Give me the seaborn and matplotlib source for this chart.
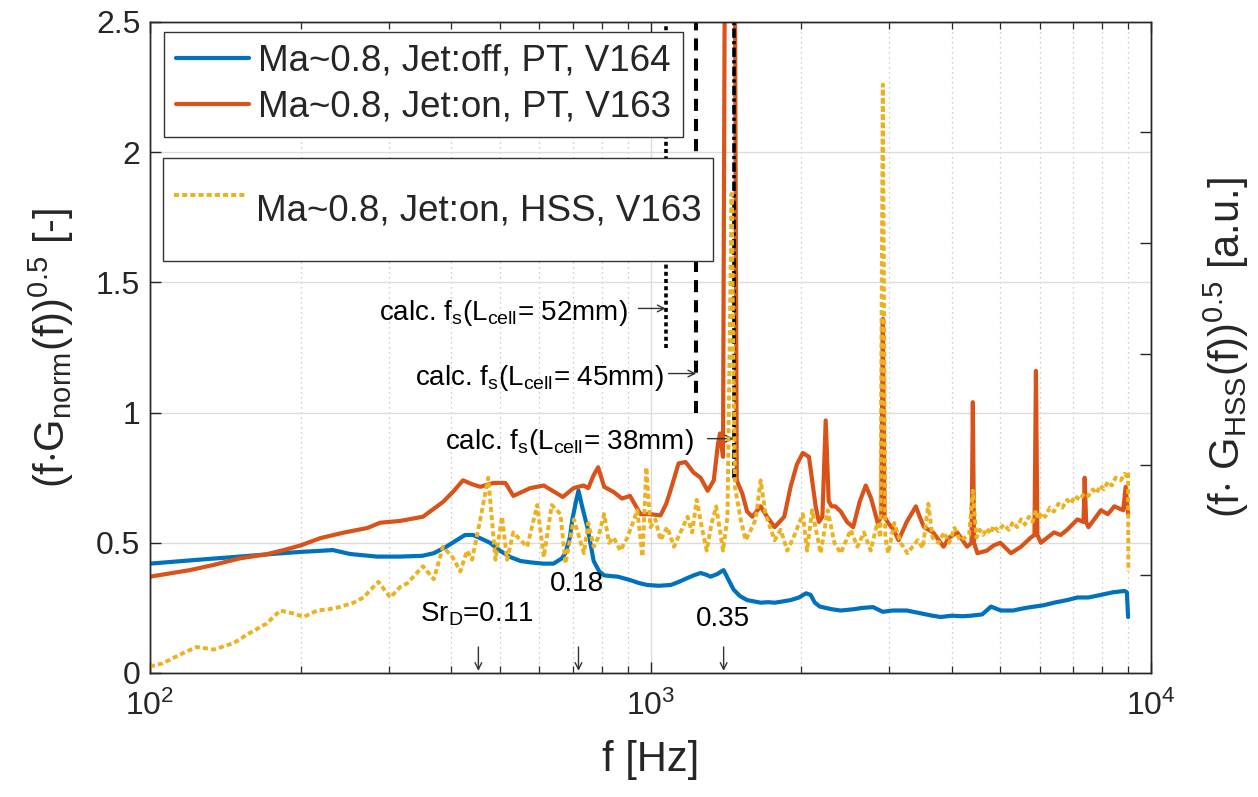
import numpy as np
import pandas as pd
import matplotlib
matplotlib.use("Agg")
import matplotlib.pyplot as plt
import seaborn as sns

# ---------------- data ----------------
freq_off = [100, 125, 151, 175, 200, 232, 251, 284, 316, 350,
            369, 390, 410, 426, 442, 460, 478, 500, 525, 550,
            575, 610, 640, 665, 676, 690, 698, 710, 718, 730,
            748, 770, 790, 808, 835, 860, 910, 950, 985, 1040,
            1097, 1140, 1186, 1220, 1259, 1290, 1318, 1360, 1385, 1400,
            1430, 1466, 1510, 1560, 1610, 1660, 1720, 1770, 1840, 1905,
            1980, 2045, 2089, 2130, 2180, 2300, 2400, 2550, 2650, 2785,
            2910, 3050, 3250, 3450, 3660, 3800, 4000, 4200, 4365, 4600,
            4790, 5010, 5300, 5550, 5750, 6100, 6400, 6800, 7130, 7500,
            7940, 8400, 8850, 8950, 9000]
val_off = [0.420, 0.435, 0.447, 0.457, 0.465, 0.472, 0.457, 0.447, 0.447, 0.450,
           0.460, 0.484, 0.510, 0.530, 0.530, 0.515, 0.500, 0.470, 0.445, 0.430,
           0.425, 0.420, 0.420, 0.440, 0.460, 0.520, 0.590, 0.660, 0.700, 0.640,
           0.560, 0.430, 0.390, 0.375, 0.372, 0.370, 0.357, 0.345, 0.338, 0.335,
           0.338, 0.350, 0.365, 0.375, 0.384, 0.378, 0.370, 0.380, 0.390, 0.395,
           0.360, 0.320, 0.295, 0.280, 0.275, 0.270, 0.272, 0.270, 0.275, 0.280,
           0.290, 0.306, 0.300, 0.270, 0.255, 0.245, 0.240, 0.245, 0.250, 0.253,
           0.235, 0.240, 0.240, 0.230, 0.220, 0.215, 0.220, 0.218, 0.220, 0.225,
           0.255, 0.240, 0.240, 0.248, 0.253, 0.260, 0.270, 0.280, 0.290, 0.290,
           0.300, 0.310, 0.315, 0.310, 0.215]

freq_on = [100, 120, 134, 151, 170, 185, 200, 219, 245, 272,
           288, 316, 351, 385, 405, 422, 440, 457, 485, 513,
           532, 575, 612, 668, 702, 718, 735, 751, 770, 786,
           808, 844, 877, 910, 955, 1000, 1047, 1075, 1096, 1138,
           1175, 1219, 1259, 1301, 1338, 1364, 1377, 1396, 1440, 1487,
           1525, 1560, 1597, 1660, 1710, 1770, 1850, 1905, 1960, 2015,
           2073, 2138, 2170, 2205, 2239, 2270, 2300, 2340, 2400, 2470,
           2540, 2620, 2692, 2760, 2845, 2890, 2912, 2935, 2985, 3060,
           3130, 3250, 3390, 3450, 3520, 3670, 3850, 3950, 4100, 4290,
           4380, 4406, 4430, 4500, 4700, 4850, 5000, 5250, 5500, 5750,
           5850, 5890, 5930, 6025, 6400, 6600, 6800, 7130, 7330, 7370,
           7420, 7500, 7940, 8200, 8450, 8800, 8900, 9000]
val_on = [0.370, 0.395, 0.415, 0.440, 0.455, 0.472, 0.490, 0.518, 0.540, 0.557,
          0.577, 0.584, 0.600, 0.657, 0.700, 0.740, 0.725, 0.715, 0.730, 0.730,
          0.680, 0.710, 0.720, 0.676, 0.710, 0.715, 0.720, 0.710, 0.760, 0.790,
          0.715, 0.695, 0.670, 0.680, 0.610, 0.610, 0.605, 0.650, 0.700, 0.805,
          0.810, 0.770, 0.750, 0.700, 0.740, 0.880, 0.920, 0.830, 8.000, 0.740,
          0.690, 0.620, 0.600, 0.640, 0.600, 0.560, 0.600, 0.715, 0.800, 0.845,
          0.830, 0.640, 0.580, 0.600, 0.970, 0.660, 0.640, 0.640, 0.620, 0.580,
          0.560, 0.660, 0.720, 0.670, 0.576, 0.600, 1.360, 0.600, 0.576, 0.550,
          0.510, 0.580, 0.640, 0.600, 0.560, 0.540, 0.485, 0.520, 0.540, 0.485,
          0.500, 1.040, 0.500, 0.460, 0.470, 0.490, 0.500, 0.460, 0.485, 0.520,
          0.530, 1.160, 0.530, 0.500, 0.540, 0.530, 0.550, 0.590, 0.580, 0.750,
          0.580, 0.560, 0.625, 0.610, 0.640, 0.625, 0.715, 0.610]

freq_hss = [100, 106, 116, 124, 134, 147, 158, 171, 182, 192,
            203, 216, 228, 240, 255, 267, 276, 286, 302, 316,
            327, 351, 369, 385, 402, 417, 430, 440, 457, 474,
            490, 505, 517, 532, 550, 567, 594, 612, 635, 661,
            676, 703, 736, 751, 770, 786, 808, 826, 844, 871,
            899, 941, 964, 981, 1000, 1023, 1047, 1080, 1114, 1148,
            1186, 1211, 1237, 1266, 1295, 1325, 1353, 1396, 1425, 1452,
            1475, 1514, 1549, 1597, 1622, 1660, 1698, 1770, 1820, 1876,
            1930, 2015, 2055, 2103, 2188, 2260, 2330, 2399, 2512, 2590,
            2670, 2754, 2838, 2880, 2912, 2945, 2985, 3070, 3162, 3260,
            3420, 3500, 3590, 3660, 3760, 3860, 3950, 4050, 4150, 4250,
            4330, 4406, 4480, 4550, 4620, 4700, 4780, 4850, 4950, 5080,
            5200, 5300, 5400, 5500, 5600, 5700, 5800, 5890, 5950, 6050,
            6150, 6280, 6400, 6530, 6650, 6800, 6920, 7050, 7200, 7350,
            7500, 7650, 7780, 7920, 8050, 8200, 8350, 8500, 8700, 8850,
            8950, 9000, 9010]
val_hss = [0.025, 0.037, 0.075, 0.100, 0.090, 0.115, 0.153, 0.190, 0.240, 0.230,
           0.216, 0.240, 0.245, 0.254, 0.270, 0.290, 0.320, 0.350, 0.290, 0.330,
           0.345, 0.410, 0.360, 0.485, 0.445, 0.390, 0.470, 0.435, 0.590, 0.750,
           0.435, 0.600, 0.435, 0.540, 0.510, 0.485, 0.645, 0.445, 0.645, 0.610,
           0.420, 0.590, 0.460, 0.576, 0.485, 0.520, 0.610, 0.500, 0.520, 0.470,
           0.520, 0.625, 0.447, 0.790, 0.560, 0.590, 0.510, 0.560, 0.485, 0.540,
           0.600, 0.540, 0.665, 0.560, 0.470, 0.576, 0.640, 0.470, 0.600, 1.840,
           0.715, 0.590, 0.510, 0.560, 0.590, 0.740, 0.610, 0.510, 0.550, 0.470,
           0.520, 0.610, 0.470, 0.625, 0.460, 0.625, 0.500, 0.460, 0.550, 0.485,
           0.540, 0.470, 0.576, 0.520, 2.260, 0.520, 0.460, 0.576, 0.500, 0.460,
           0.510, 0.480, 0.650, 0.520, 0.500, 0.540, 0.500, 0.557, 0.510, 0.520,
           0.530, 0.700, 0.520, 0.550, 0.530, 0.555, 0.535, 0.565, 0.545, 0.570,
           0.550, 0.580, 0.560, 0.590, 0.570, 0.600, 0.580, 0.625, 0.590, 0.615,
           0.600, 0.635, 0.620, 0.650, 0.635, 0.665, 0.650, 0.680, 0.665, 0.690,
           0.680, 0.705, 0.690, 0.720, 0.705, 0.735, 0.720, 0.750, 0.740, 0.765,
           0.755, 0.770, 0.390]

series_labels = ["Ma~0.8, Jet:off, PT, V164",
                 "Ma~0.8, Jet:on, PT, V163",
                 "Ma~0.8, Jet:on, HSS, V163"]

# calculated shedding frequencies for L_cell = 52, 45, 38 mm
fs_calc = [1072, 1234, 1466]
fs_cell = ["52mm", "45mm", "38mm"]
fs_line_bottom = [1.25, 1.0, 0.75]

# Strouhal markers
sr_freq = [453, 718, 1400]
sr_text = [r"Sr$_\mathrm{D}$=0.11", "0.18", "0.35"]

left_ticks = [0, 0.5, 1, 1.5, 2, 2.5]
left_ticklabels = ["0", "0.5", "1", "1.5", "2", "2.5"]
right_ticks = [0.376, 0.799, 1.225, 1.651, 2.078]

# ---------------- style ----------------
sns.set_theme(style="white")
plt.rcParams["font.family"] = ["Liberation Sans", "DejaVu Sans"]
plt.rcParams["mathtext.fontset"] = "custom"
plt.rcParams["mathtext.rm"] = "Liberation Sans"
plt.rcParams["mathtext.it"] = "Liberation Sans:italic"
plt.rcParams["mathtext.bf"] = "Liberation Sans:bold"

BLUE, ORANGE, YELLOW = "#0072BD", "#D95319", "#EDB120"
DARK = "#262626"

fig = plt.figure(figsize=(12.58, 7.97), dpi=100)
ax = fig.add_axes([150 / 1258, 1 - 673 / 797, 1001 / 1258, 651 / 797])

df_off = pd.DataFrame({"f": freq_off, "v": val_off})
df_on = pd.DataFrame({"f": freq_on, "v": val_on})
df_hss = pd.DataFrame({"f": freq_hss, "v": val_hss})

sns.lineplot(data=df_off, x="f", y="v", ax=ax, color=BLUE, lw=3.0,
             estimator=None, sort=False, label=series_labels[0], legend=False)
sns.lineplot(data=df_on, x="f", y="v", ax=ax, color=ORANGE, lw=3.0,
             estimator=None, sort=False, label=series_labels[1], legend=False)
h_off, h_on = ax.lines[0], ax.lines[1]

# vertical lines for calculated frequencies
styles = [(0, (1.1, 0.9)), (0, (3.0, 2.0)), (0, (2.6, 0.9, 0.9, 0.9))]
widths = [2.6, 2.9, 2.6]
for f, b, ls, w in zip(fs_calc, fs_line_bottom, styles, widths):
    ax.axvline(f, ymin=b / 2.5, ymax=1, color="black", lw=w, linestyle=ls,
               dash_capstyle="butt", zorder=3)

ax.set_xscale("log")
ax.set_xlim(100, 1e4)
ax.set_ylim(0, 2.5)
ax.set_yticks(left_ticks)
ax.set_yticklabels(left_ticklabels)

ax.set_axisbelow(True)
ax.grid(which="major", color="#dcdcdc", lw=1.0, linestyle="-")
ax.grid(which="minor", axis="x", color="#bdbdbd", lw=0.9, linestyle=(0, (1, 3)))

ax.tick_params(axis="both", which="both", direction="in", colors=DARK,
               labelsize=23, top=True, bottom=True, left=True, right=False)
ax.tick_params(axis="x", which="major", length=8, width=1, pad=13)
ax.tick_params(axis="x", which="minor", length=5, width=0.9)
ax.tick_params(axis="y", which="major", length=8, width=1, pad=7)
for s in ax.spines.values():
    s.set_color(DARK)
    s.set_linewidth(1.0)

LABEL_FS = 30
ax.set_xlabel("f [Hz]", fontsize=LABEL_FS, color=DARK, labelpad=13)
ax.set_ylabel(r"(f$\cdot$G$_\mathrm{norm}$(f))$^\mathrm{0.5}$ [-]", fontsize=LABEL_FS,
              color=DARK, labelpad=14)

# annotations
txt_fs = 20
text_right = [899, 1062, 1219]
text_y = [1.382, 1.133, 0.887]
arrow_start = [946, 1086, 1300]
arrow_y = [1.40, 1.15, 0.90]
for f, cell, xr, ty, xa, ay in zip(fs_calc, fs_cell, text_right, text_y, arrow_start, arrow_y):
    ax.text(xr, ty, r"calc. f$_\mathrm{s}$(L$_\mathrm{cell}$= " + cell + ")",
            ha="right", va="center", fontsize=txt_fs, color="black", zorder=6)
    ax.annotate("", xy=(f, ay), xytext=(xa, ay),
                arrowprops=dict(arrowstyle="->", color="#333333", lw=1.0,
                                shrinkA=0, shrinkB=0, mutation_scale=12), zorder=6)

sr_tx = [449, 714, 1393]
sr_ty = [0.227, 0.342, 0.207]
for f, s, tx, ty in zip(sr_freq, sr_text, sr_tx, sr_ty):
    ax.text(tx, ty, s, ha="center", va="center", fontsize=txt_fs, color="black")
    ax.annotate("", xy=(f, 0.008), xytext=(f, 0.10),
                arrowprops=dict(arrowstyle="->", color="#333333", lw=1.0,
                                shrinkA=0, shrinkB=0, mutation_scale=12))

LEG_FS = 26.5
leg1 = ax.legend(handles=[h_off, h_on], labels=series_labels[:2], loc="upper left",
                 bbox_to_anchor=(0.014, 0.9846), borderaxespad=0, fontsize=LEG_FS,
                 frameon=True, fancybox=False, edgecolor="#333333", framealpha=1,
                 borderpad=0.32, labelspacing=0.3, handlelength=1.98,
                 handletextpad=0.25)
leg1.get_frame().set_linewidth(1.0)
leg1.set_zorder(10)

# right axis (HSS)
ax2 = ax.twinx()
sns.lineplot(data=df_hss, x="f", y="v", ax=ax2, color=YELLOW, lw=2.8,
             estimator=None, sort=False, label=series_labels[2], legend=False,
             linestyle=(0, (1.3, 0.8)))
ax2.lines[0].set_dash_capstyle("butt")
ax2.set_xscale("log")
ax2.set_xlim(100, 1e4)
ax2.set_ylim(0, 2.5)
ax2.set_yticks(right_ticks)
ax2.set_yticklabels([])
ax2.tick_params(axis="y", which="both", direction="in", colors=DARK, length=8,
                width=1, right=True, left=False)
ax2.grid(False)
for s in ax2.spines.values():
    s.set_color(DARK)
    s.set_linewidth(1.0)
ax2.set_xlabel("")
ax2.set_ylabel(r"(f$\cdot$ G$_\mathrm{HSS}$(f))$^\mathrm{0.5}$ [a.u.]", fontsize=LABEL_FS,
               color=DARK, labelpad=33)

leg2 = ax2.legend(handles=[ax2.lines[0]], labels=[series_labels[2]], loc="upper left",
                  bbox_to_anchor=(0.013, 0.791), borderaxespad=0, fontsize=LEG_FS,
                  frameon=True, fancybox=False, edgecolor="#333333", framealpha=1,
                  borderpad=0.3, handlelength=1.98, handletextpad=0.25,
                  handleheight=3.0)
leg2.get_frame().set_linewidth(1.0)

fig.savefig("out.png", dpi=100)
